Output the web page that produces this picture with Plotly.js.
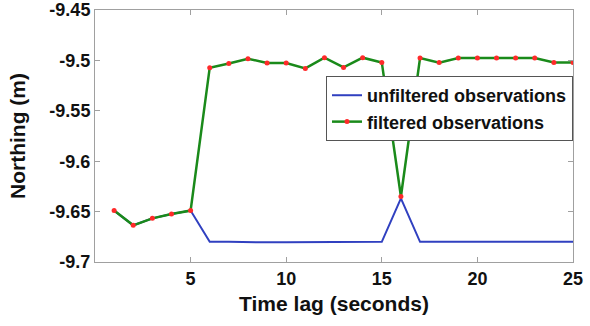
<!DOCTYPE html>
<html><head><meta charset="utf-8">
<script src="https://cdn.plot.ly/plotly-3.0.1.min.js"></script>
<style>body{margin:0;padding:0;background:#fff}#chart{width:590px;height:326px}</style>
</head><body><div id="chart"></div>
<script>
const timeLag = [1,2,3,4,5,6,7,8,9,10,11,12,13,14,15,16,17,18,19,20,21,22,23,24,25];
const unfiltered = [-9.649,-9.6636,-9.6567,-9.6524,-9.649,-9.680,-9.680,-9.6805,-9.6805,-9.6805,-9.6805,-9.680,-9.680,-9.680,-9.680,-9.6368,-9.680,-9.680,-9.680,-9.680,-9.680,-9.6805,-9.680,-9.680,-9.680];
const filtered = [-9.649,-9.6636,-9.6567,-9.6524,-9.649,-9.5072,-9.503,-9.4983,-9.5026,-9.5026,-9.508,-9.4973,-9.507,-9.4973,-9.502,-9.635,-9.4976,-9.5022,-9.4976,-9.4976,-9.4976,-9.4976,-9.4976,-9.502,-9.502];
const xTicks = [5,10,15,20,25];
const yTicks = [-9.7,-9.65,-9.6,-9.55,-9.5,-9.45];
const yTickText = ['-9.7','-9.65','-9.6','-9.55','-9.5','-9.45'];

const font = 'Liberation Sans, Arial, sans-serif';
const data = [
  {x: timeLag, y: unfiltered, name: 'unfiltered observations', mode: 'lines',
   line: {color: '#3040c0', width: 2}},
  {x: timeLag, y: filtered, name: 'filtered observations', mode: 'lines+markers',
   line: {color: '#1a8a1a', width: 2.5}, marker: {color: '#ff2a2a', size: 5}}
];
const axisCommon = {
  showgrid: false, zeroline: false, showline: true, linecolor: '#a0a0a0', linewidth: 1,
  mirror: 'ticks', ticks: 'inside', ticklen: 5, tickcolor: '#a0a0a0',
  tickfont: {family: font, size: 18, color: '#111', weight: 'bold'}
};
const layout = {
  width: 590, height: 326,
  margin: {l: 95, r: 17, t: 10, b: 64},
  paper_bgcolor: '#fff', plot_bgcolor: '#fff',
  showlegend: true,
  xaxis: Object.assign({}, axisCommon, {range: [0, 25], tickvals: xTicks,
    title: {text: '<b>Time lag (seconds)</b>', font: {family: font, size: 21, color: '#111'}, standoff: 8}}),
  yaxis: Object.assign({}, axisCommon, {range: [-9.7, -9.45], tickvals: yTicks, ticktext: yTickText,
    title: {text: '<b>Northing (m)</b>', font: {family: font, size: 21, color: '#111'}, standoff: 18}}),
  legend: {x: 1, xanchor: 'right', y: 0.738, yanchor: 'top', bgcolor: '#fff',
    bordercolor: '#555', borderwidth: 1, itemwidth: 30, tracegroupgap: 0,
    font: {family: font, size: 18, color: '#111', weight: 'bold'}}
};
Plotly.newPlot('chart', data, layout, {displayModeBar: false, staticPlot: true});
</script></body></html>
